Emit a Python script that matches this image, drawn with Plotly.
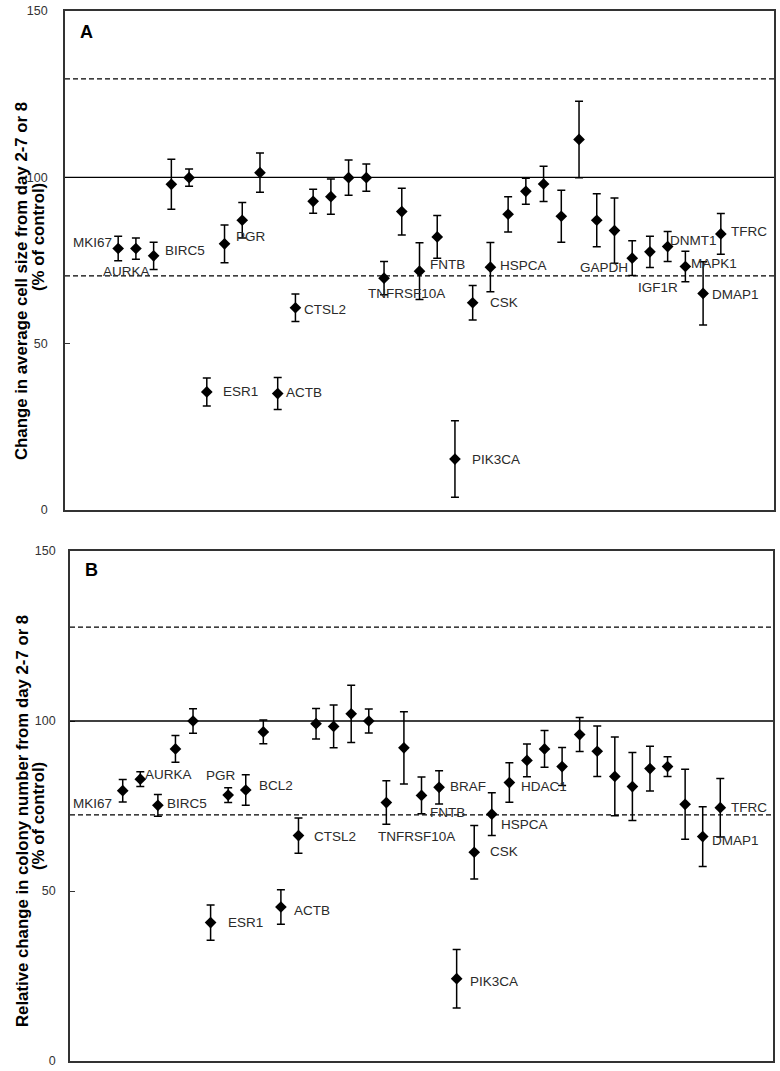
import plotly.graph_objects as go

# ---------------- data ----------------
genes = ["MKI67", "AURKA", "BIRC5", "", "", "ESR1", "PGR", "BCL2", "", "ACTB",
         "CTSL2", "", "", "", "", "TNFRSF10A", "", "FNTB", "BRAF", "PIK3CA",
         "CSK", "HSPCA", "HDAC1", "", "", "", "", "GAPDH", "", "",
         "IGF1R", "DNMT1", "MAPK1", "DMAP1", "TFRC"]

size_vals = [78.6, 78.6, 76.4, 97.9, 99.9, 35.5, 80.0, 87.1, 101.4, 35.0,
             60.8, 92.8, 94.2, 99.9, 99.9, 69.7, 89.7, 71.8, 82.1, 15.3,
             62.3, 73.0, 88.9, 95.8, 98.0, 88.3, 111.4, 87.1, 84.0, 75.7,
             77.6, 79.2, 73.2, 65.1, 83.0]
size_err = [3.7, 3.2, 4.1, 7.5, 2.6, 4.2, 5.7, 5.3, 5.9, 4.8,
            4.1, 3.6, 5.3, 5.3, 4.1, 5.0, 7.0, 8.5, 6.4, 11.5,
            5.2, 7.4, 5.3, 3.9, 5.3, 7.8, 11.5, 8.0, 9.8, 5.2,
            4.7, 4.5, 4.6, 9.5, 6.1]

colony_vals = [79.5, 82.9, 75.2, 91.8, 100.0, 40.7, 78.2, 79.7, 96.8, 45.3,
               66.3, 99.2, 98.4, 102.1, 100.0, 76.0, 92.1, 78.1, 80.5, 24.2,
               61.4, 72.6, 81.9, 88.4, 91.8, 86.6, 96.0, 91.1, 83.7, 80.7,
               86.0, 86.6, 75.5, 66.0, 74.5]
colony_err = [3.3, 2.2, 3.2, 3.9, 3.6, 5.2, 2.2, 4.5, 3.5, 5.1,
              5.2, 4.5, 6.3, 8.4, 3.5, 6.4, 10.6, 5.4, 4.9, 8.6,
              7.9, 6.3, 5.8, 4.8, 5.4, 5.6, 5.0, 7.4, 11.6, 10.0,
              6.6, 2.9, 10.3, 8.8, 8.6]

size_thresholds = [129.6, 70.4]
colony_thresholds = [127.6, 72.4]
reference_level = 100

ytick_vals = [0, 50, 100, 150]

labels_A = ["MKI67", "AURKA", "BIRC5", "ESR1", "PGR", "ACTB", "CTSL2", "TNFRSF10A",
            "FNTB", "PIK3CA", "CSK", "HSPCA", "GAPDH", "IGF1R", "DNMT1", "MAPK1",
            "DMAP1", "TFRC"]
labels_B = ["MKI67", "AURKA", "BIRC5", "ESR1", "PGR", "BCL2", "ACTB", "CTSL2",
            "TNFRSF10A", "FNTB", "BRAF", "PIK3CA", "CSK", "HSPCA", "HDAC1",
            "DMAP1", "TFRC"]

# label placement (anchor, xshift px, yshift px) relative to each point
place_A = {
    "MKI67": ("right", -4, 6), "AURKA": ("center", -9, -23), "BIRC5": ("left", 9, 5),
    "ESR1": ("left", 14, 0), "PGR": ("left", 9, 7), "ACTB": ("left", 6, 1),
    "CTSL2": ("left", 7, -2), "TNFRSF10A": ("center", 22, -15), "FNTB": ("left", 8, 7),
    "PIK3CA": ("left", 15, 0), "CSK": ("left", 15, 0), "HSPCA": ("left", 8, 2),
    "GAPDH": ("center", 7, -47), "IGF1R": ("center", 8, -36), "DNMT1": ("left", 0, 6),
    "MAPK1": ("left", 4, 3), "DMAP1": ("left", 7, -1), "TFRC": ("left", 8, 2),
}
place_B = {
    "MKI67": ("right", -9, -13), "AURKA": ("left", 3, 5), "BIRC5": ("left", 7, 2),
    "ESR1": ("left", 15, 0), "PGR": ("center", -7, 20), "BCL2": ("left", 11, 5),
    "ACTB": ("left", 11, -4), "CTSL2": ("left", 14, -1), "TNFRSF10A": ("center", 30, -34),
    "FNTB": ("left", 6, -17), "BRAF": ("left", 9, 1), "PIK3CA": ("left", 11, -3),
    "CSK": ("left", 14, 1), "HSPCA": ("left", 7, -10), "HDAC1": ("left", 10, -4),
    "DMAP1": ("left", 7, -4), "TFRC": ("left", 9, 0),
}

# ---------------- figure ----------------
W, H = 780, 1071
FONT = "Liberation Sans, Arial, sans-serif"
idx = list(range(1, len(genes) + 1))

fig = go.Figure()

def add_panel(vals, errs, xa, ya):
    fig.add_trace(go.Scatter(
        x=idx, y=vals, mode="markers", xaxis=xa, yaxis=ya,
        marker=dict(symbol="diamond", size=9, color="black"),
        error_y=dict(type="data", array=errs, visible=True, color="black",
                     thickness=1.5, width=4),
        showlegend=False, hoverinfo="skip"))

add_panel(size_vals, size_err, "x", "y")
add_panel(colony_vals, colony_err, "x2", "y2")

shapes = []
for xr, yr, thr in [("x domain", "y", size_thresholds), ("x2 domain", "y2", colony_thresholds)]:
    shapes.append(dict(type="line", xref=xr, yref=yr, x0=0, x1=1,
                       y0=reference_level, y1=reference_level,
                       line=dict(color="black", width=1.3)))
    for t in thr:
        shapes.append(dict(type="line", xref=xr, yref=yr, x0=0, x1=1, y0=t, y1=t,
                           line=dict(color="black", width=1.3, dash="5px,3px")))

annotations = []
def add_labels(labels, vals, place, xr, yr):
    for g in labels:
        i = genes.index(g)
        anc, dx, dy = place[g]
        annotations.append(dict(x=idx[i], y=vals[i], xref=xr, yref=yr, text=g,
                                showarrow=False, xanchor=anc, yanchor="middle",
                                xshift=dx, yshift=dy,
                                font=dict(family=FONT, size=13.5, color="#2a2a2a")))

add_labels(labels_A, size_vals, place_A, "x", "y")
add_labels(labels_B, colony_vals, place_B, "x2", "y2")

def paper(px, py):
    return px / W, 1 - py / H

# panel letters
for txt, (px, py) in [("A", (78, 32)), ("B", (83, 570))]:
    x, y = paper(px, py)
    annotations.append(dict(x=x, y=y, xref="paper", yref="paper", text="<b>%s</b>" % txt,
                            showarrow=False, xanchor="left", yanchor="middle",
                            font=dict(family=FONT, size=18, color="black")))

# y-axis titles (two lines each)
titles = [
    ("Change in average cell size from day 2-7 or 8", (22, 281)),
    ("(% of control)", (38, 237)),
    ("Relative change in colony number from day 2-7 or 8", (22, 821)),
    ("(% of control)", (38, 816)),
]
for txt, (px, py) in titles:
    x, y = paper(px, py)
    annotations.append(dict(x=x, y=y, xref="paper", yref="paper", text="<b>%s</b>" % txt,
                            showarrow=False, textangle=-90, xanchor="center", yanchor="middle",
                            font=dict(family=FONT, size=16.8, color="black")))

def xaxis(dom, anchor):
    return dict(domain=dom, anchor=anchor, range=[-2, 38], showgrid=False, zeroline=False,
                showticklabels=False, ticks="", showline=True, mirror=True,
                linecolor="#333", linewidth=1.6, fixedrange=True)

def yaxis(dom, anchor, standoff):
    return dict(domain=dom, anchor=anchor, range=[0, 150], tickvals=ytick_vals,
                showgrid=False, zeroline=False, ticks="inside", ticklen=5,
                tickcolor="#333", showline=True, mirror=True, linecolor="#333",
                linewidth=1.6, automargin=False, ticklabelstandoff=standoff,
                fixedrange=True,
                tickfont=dict(family=FONT, size=12.5, color="#333"))

fig.update_layout(
    width=W, height=H, autosize=False,
    margin=dict(l=0, r=0, t=0, b=0),
    paper_bgcolor="white", plot_bgcolor="white",
    xaxis=xaxis([65 / W, 774 / W], "y"),
    yaxis=yaxis([1 - 510 / H, 1 - 11 / H], "x", 13),
    xaxis2=xaxis([70 / W, 773 / W], "y2"),
    yaxis2=yaxis([1 - 1061 / H, 1 - 551 / H], "x2", 10),
    shapes=shapes, annotations=annotations,
)

fig.write_html("out.html", config={"displayModeBar": False},
               post_script="document.body.style.margin='0';document.body.style.overflow='hidden';")
